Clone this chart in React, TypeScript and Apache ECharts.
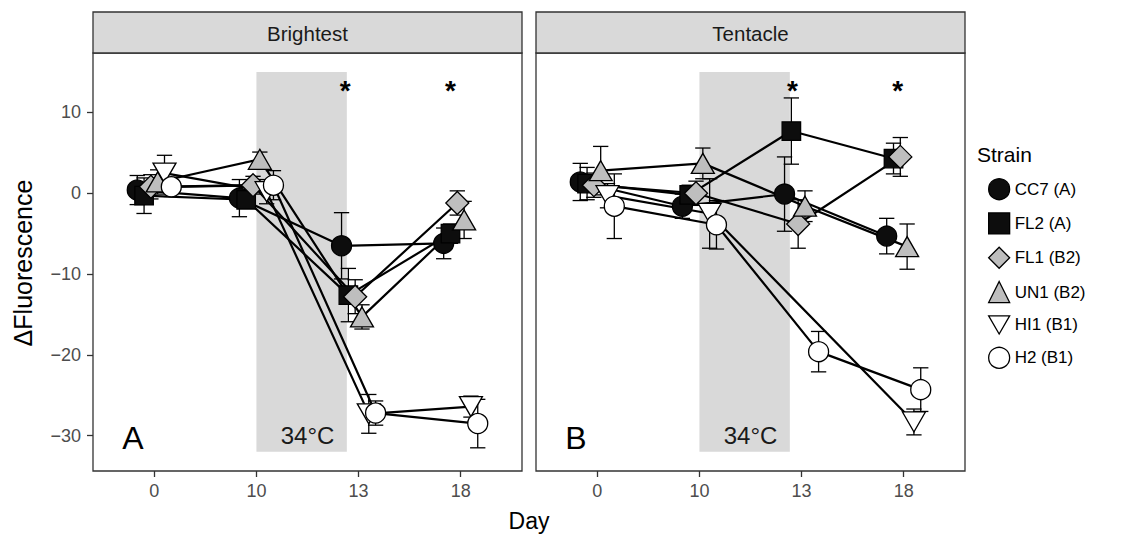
import React, { useEffect, useRef } from 'react';
import * as echarts from 'echarts';

// ---------------- data ----------------
const DAYS = ['0', '10', '13', '18'];
const STRAINS = ['CC7 (A)', 'FL2 (A)', 'FL1 (B2)', 'UN1 (B2)', 'HI1 (B1)', 'H2 (B1)'];
const PANELS = ['Brightest', 'Tentacle'];
const PANEL_TAGS = ['A', 'B'];

// mean ΔFluorescence per strain (rows follow STRAINS), columns follow DAYS
const BRIGHT_MEAN: (number | null)[][] = [
  [0.4, -0.6, -6.5, -6.2],
  [-0.3, -0.8, -12.6, -5.0],
  [0.8, 1.0, -12.8, -1.2],
  [1.4, 4.2, -15.3, -3.3],
  [2.5, 0.2, -27.3, -26.4],
  [0.8, 1.0, -27.2, -28.5],
];
const BRIGHT_SE: (number | null)[][] = [
  [1.8, 2.3, 4.1, 1.9],
  [2.2, 1.0, 3.3, 1.2],
  [1.5, 1.1, 2.1, 1.5],
  [1.5, 0.9, 1.5, 2.3],
  [2.2, 1.5, 2.4, 1.3],
  [1.2, 1.8, 1.5, 3.0],
];
const TENT_MEAN: (number | null)[][] = [
  [1.4, -1.6, -0.1, -5.3],
  [1.2, -0.2, 7.7, 4.3],
  [1.0, 0.0, -3.8, 4.5],
  [2.8, 3.7, -1.6, -6.6],
  [-0.3, -2.5, null, -28.3],
  [-1.6, -3.9, -19.6, -24.3],
];
const TENT_SE: (number | null)[][] = [
  [2.3, 1.5, 4.6, 2.2],
  [2.0, 1.2, 4.1, 1.9],
  [1.5, 1.5, 3.0, 2.4],
  [3.0, 1.9, 1.9, 2.8],
  [1.5, 4.3, null, 1.6],
  [4.0, 3.0, 2.5, 2.7],
];

const Y_TICKS = [-30, -20, -10, 0, 10];
const X_TICKS = [0, 1, 2, 3];

// heat-stress shading (in day-category units) and annotations
const HEAT_BOX = [1, 1.885, -32, 15]; // xStart, xEnd, yBottom, yTop
const HEAT_LABEL = '34°C';
const HEAT_LABEL_POS = [1.5, -30];
const STAR_X = [
  [1.87, 2.9],
  [1.91, 2.94],
];
const STAR_Y = 12.7;
const TAG_POS = [-0.21, -30.3];

// ---------------- styling ----------------
const FONT = '"Liberation Sans", Arial, Helvetica, sans-serif';
const SYMBOLS = ['circle', 'rect', 'diamond', 'triangle', 'path://M0,0L20,0L10,17.32Z', 'circle'];
const SIZES: any[] = [20, 18.5, 23, [23, 20], [23, 20], 20];
const FILLS = ['#0d0d0d', '#0d0d0d', '#bebebe', '#bebebe', '#ffffff', '#ffffff'];
const DODGE = 0.4;
const CAP = 0.15;

const GRIDS = [
  { left: 93, top: 53, width: 429, height: 418 },
  { left: 536, top: 53, width: 429, height: 418 },
];

const dodge = (d: number, i: number) =>
  d + (i - (STRAINS.length - 1) / 2) * (DODGE / STRAINS.length);

const fmtNum = (v: number) => (v < 0 ? '\u2212' + Math.abs(v) : String(v));

function buildOption() {
  const means = [BRIGHT_MEAN, TENT_MEAN];
  const ses = [BRIGHT_SE, TENT_SE];
  const series: any[] = [];

  for (let g = 0; g < 2; g++) {
    // shaded heat period
    series.push({
      type: 'custom',
      xAxisIndex: g,
      yAxisIndex: g,
      silent: true,
      z: 0,
      encode: { x: [0, 1], y: [2, 3] },
      data: [HEAT_BOX],
      renderItem: (_p: any, api: any) => {
        const a = api.coord([api.value(0), api.value(3)]);
        const b = api.coord([api.value(1), api.value(2)]);
        return {
          type: 'rect',
          shape: { x: a[0], y: a[1], width: b[0] - a[0], height: b[1] - a[1] },
          style: { fill: '#d9d9d9' },
        };
      },
    });

    // error bars
    const ebData: number[][] = [];
    STRAINS.forEach((_s, i) => {
      DAYS.forEach((_d, j) => {
        const m = means[g][i][j];
        const e = ses[g][i][j];
        if (m == null || e == null) return;
        ebData.push([dodge(j, i), m - e, m + e]);
      });
    });
    series.push({
      type: 'custom',
      xAxisIndex: g,
      yAxisIndex: g,
      silent: true,
      z: 1,
      encode: { x: 0, y: [1, 2] },
      data: ebData,
      renderItem: (_p: any, api: any) => {
        const x = api.value(0);
        const lo = api.value(1);
        const hi = api.value(2);
        const pLo = api.coord([x, lo]);
        const pHi = api.coord([x, hi]);
        const lL = api.coord([x - CAP / 2, lo]);
        const lR = api.coord([x + CAP / 2, lo]);
        const hL = api.coord([x - CAP / 2, hi]);
        const hR = api.coord([x + CAP / 2, hi]);
        const st = { stroke: '#000', lineWidth: 1.3 };
        return {
          type: 'group',
          children: [
            { type: 'line', shape: { x1: pLo[0], y1: pLo[1], x2: pHi[0], y2: pHi[1] }, style: st },
            { type: 'line', shape: { x1: lL[0], y1: lL[1], x2: lR[0], y2: lR[1] }, style: st },
            { type: 'line', shape: { x1: hL[0], y1: hL[1], x2: hR[0], y2: hR[1] }, style: st },
          ],
        };
      },
    });

    // lines
    STRAINS.forEach((s, i) => {
      const data: number[][] = [];
      DAYS.forEach((_d, j) => {
        const m = means[g][i][j];
        if (m != null) data.push([dodge(j, i), m]);
      });
      series.push({
        type: 'line',
        name: s + ' line ' + g,
        xAxisIndex: g,
        yAxisIndex: g,
        data,
        symbol: 'none',
        silent: true,
        z: 2,
        lineStyle: { color: '#000', width: 2.2 },
      });
    });

    // points
    STRAINS.forEach((s, i) => {
      const data: number[][] = [];
      DAYS.forEach((_d, j) => {
        const m = means[g][i][j];
        if (m != null) data.push([dodge(j, i), m]);
      });
      series.push({
        type: 'scatter',
        name: s,
        xAxisIndex: g,
        yAxisIndex: g,
        data,
        symbol: SYMBOLS[i],
        symbolSize: SIZES[i],
        silent: true,
        z: 3,
        itemStyle: { color: FILLS[i], borderColor: '#000', borderWidth: 1.3, opacity: 1 },
      });
    });

    // annotations (text placed through the axes' scales)
    const annTexts = ['*', '*', HEAT_LABEL, PANEL_TAGS[g]];
    const annStyles = [
      { fontSize: 28, fontWeight: 'bold', fill: '#000' },
      { fontSize: 28, fontWeight: 'bold', fill: '#000' },
      { fontSize: 24, fontWeight: 'normal', fill: '#1a1a1a' },
      { fontSize: 32, fontWeight: 'normal', fill: '#000' },
    ];
    series.push({
      type: 'custom',
      xAxisIndex: g,
      yAxisIndex: g,
      silent: true,
      z: 4,
      encode: { x: 0, y: 1 },
      data: [
        [STAR_X[g][0], STAR_Y, 0],
        [STAR_X[g][1], STAR_Y, 1],
        [HEAT_LABEL_POS[0], HEAT_LABEL_POS[1], 2],
        [TAG_POS[0], TAG_POS[1], 3],
      ],
      renderItem: (_p: any, api: any) => {
        const k = api.value(2);
        const pt = api.coord([api.value(0), api.value(1)]);
        const s = annStyles[k];
        return {
          type: 'text',
          x: pt[0],
          y: pt[1],
          style: {
            text: annTexts[k],
            fill: s.fill,
            fontSize: s.fontSize,
            fontWeight: s.fontWeight,
            fontFamily: FONT,
            align: 'center',
            verticalAlign: 'middle',
          },
        };
      },
    });
  }

  const xAxis = [0, 1].map((g) => ({
    type: 'value',
    gridIndex: g,
    min: -0.6,
    max: 3.6,
    splitLine: { show: false },
    axisLine: { show: false, onZero: false },
    axisTick: {
      show: true,
      customValues: X_TICKS,
      length: 6,
      lineStyle: { color: '#333', width: 1.3 },
    },
    axisLabel: {
      customValues: X_TICKS,
      formatter: (v: number) => DAYS[Math.round(v)],
      color: '#4d4d4d',
      fontSize: 18,
      margin: 11,
      fontFamily: FONT,
    },
  }));

  const yAxis = [0, 1].map((g) => ({
    type: 'value',
    gridIndex: g,
    min: -34.37,
    max: 17.36,
    splitLine: { show: false },
    axisLine: { show: false, onZero: false },
    axisTick: {
      show: g === 0,
      customValues: Y_TICKS,
      length: 6,
      lineStyle: { color: '#333', width: 1.3 },
    },
    axisLabel: {
      show: g === 0,
      customValues: Y_TICKS,
      formatter: fmtNum,
      color: '#4d4d4d',
      fontSize: 18,
      margin: 12,
      fontFamily: FONT,
    },
  }));

  const graphic: any[] = [];
  PANELS.forEach((p, g) => {
    const gr = GRIDS[g];
    graphic.push({
      type: 'rect',
      shape: { x: gr.left, y: 12, width: gr.width, height: 41 },
      style: { fill: '#d9d9d9', stroke: '#333', lineWidth: 1.3 },
      z: 10,
    });
    graphic.push({
      type: 'text',
      x: gr.left + gr.width / 2,
      y: 33,
      style: {
        text: p,
        fill: '#1a1a1a',
        fontSize: 20.5,
        fontFamily: FONT,
        align: 'center',
        verticalAlign: 'middle',
      },
      z: 11,
    });
  });
  graphic.push({
    type: 'text',
    x: 529,
    y: 521,
    style: { text: 'Day', fill: '#000', fontSize: 23, fontFamily: FONT, align: 'center', verticalAlign: 'middle' },
  });
  graphic.push({
    type: 'text',
    x: 23,
    y: 263,
    rotation: Math.PI / 2,
    style: {
      text: '\u0394Fluorescence',
      fill: '#000',
      fontSize: 25,
      fontFamily: FONT,
      align: 'center',
      verticalAlign: 'middle',
    },
  });
  graphic.push({
    type: 'text',
    x: 977,
    y: 154,
    style: { text: 'Strain', fill: '#000', fontSize: 21, fontFamily: FONT, align: 'left', verticalAlign: 'middle' },
  });

  return {
    animation: false,
    backgroundColor: '#ffffff',
    textStyle: { fontFamily: FONT },
    grid: GRIDS.map((gr) => ({
      ...gr,
      show: true,
      borderColor: '#333',
      borderWidth: 1.3,
      backgroundColor: 'rgba(0,0,0,0)',
      containLabel: false,
    })),
    xAxis,
    yAxis,
    legend: {
      data: STRAINS,
      orient: 'vertical',
      left: 983,
      top: 173,
      itemWidth: 21,
      itemHeight: 21,
      itemGap: 12,
      selectedMode: false,
      itemStyle: { borderWidth: 1.3, borderColor: '#000' },
      textStyle: { fontSize: 17, color: '#000', fontFamily: FONT },
    },
    graphic,
    series,
  };
}

export default function App() {
  const ref = useRef<HTMLDivElement>(null);
  useEffect(() => {
    if (!ref.current) return;
    const chart = echarts.init(ref.current, null, { renderer: 'svg' });
    chart.setOption(buildOption() as any);
    return () => chart.dispose();
  }, []);
  return (
    <div
      ref={ref}
      style={{ position: 'fixed', left: 0, top: 0, width: 1125, height: 535, background: '#fff' }}
    />
  );
}
